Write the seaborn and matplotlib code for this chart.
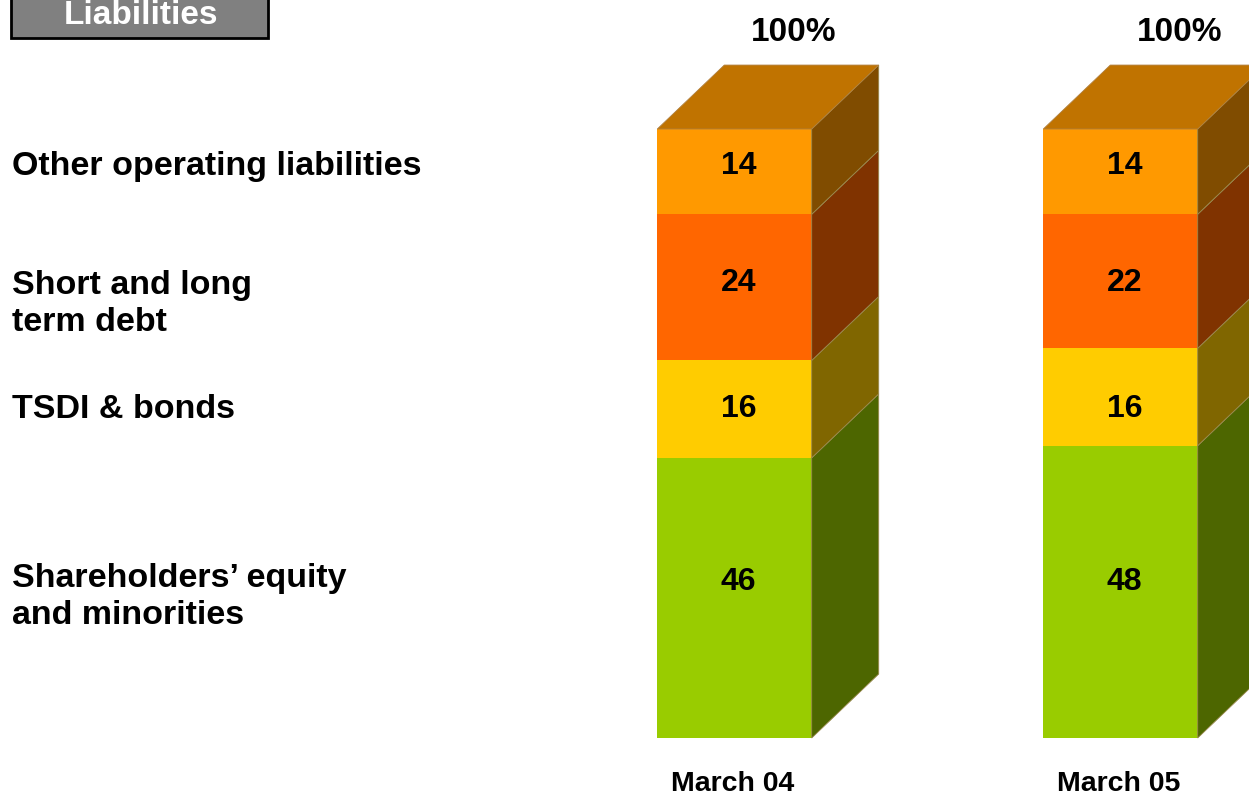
import matplotlib
matplotlib.use("Agg")
import matplotlib.pyplot as plt
from matplotlib.patches import Rectangle
import seaborn as sns
import pandas as pd

# Balance-sheet liability structure, % of total
periods = ["March 04", "March 05"]
segments = ["Shareholders\u2019 equity\nand minorities", "TSDI & bonds",
            "Short and long\nterm debt", "Other operating liabilities"]
equity = [46, 48]
tsdi = [16, 16]
debt = [24, 22]
other = [14, 14]
totals_label = ["100%", "100%"]

front_colors = ["#99CC00", "#FFCC00", "#FF6600", "#FF9900"]
side_colors = ["#4D6600", "#806600", "#803300", "#804C00"]
top_color = "#C07300"

sns.set_theme(style="white")
plt.rcParams["font.family"] = ["Liberation Sans", "DejaVu Sans"]

W, H = 1249, 797
fig = plt.figure(figsize=(W / 100, H / 100), dpi=100)
ax = fig.add_axes([0, 0, 1, 1])

series = [equity, tsdi, debt, other]
# cumulative stacks
cum = []
run = [0, 0]
for s in series:
    lo = list(run)
    run = [a + b for a, b in zip(run, s)]
    cum.append((lo, list(run)))

bar_w = 0.40
# front faces: draw cumulative tops from the highest layer down
for i in range(len(series) - 1, -1, -1):
    df = pd.DataFrame({"period": periods, "value": cum[i][1]})
    sns.barplot(data=df, x="period", y="value", color=front_colors[i],
                saturation=1, width=bar_w, linewidth=0, ax=ax, order=periods)

# pixel-aligned data window
cx0, step = 734.5, 386.0
y0, ppu = 738.0, 6.09
ax.set_xlim(-cx0 / step, (W - cx0) / step)
ax.set_ylim((y0 - H) / ppu, y0 / ppu)
ax.axis("off")


def row(py):
    """Convert a pixel row to the value axis."""
    return (y0 - py) / ppu


# text rows shared by the value labels and the category labels
value_rows = [582, 409, 283, 166]
cat_rows = [597, 409, 304, 166]

# pseudo-3D depth
dx, dy = 0.1736, 10.5
for j in range(len(periods)):
    xr = j + bar_w / 2
    xl = j - bar_w / 2
    for i in range(len(series)):
        b, t = cum[i][0][j], cum[i][1][j]
        ax.fill([xr, xr + dx, xr + dx, xr], [b, b + dy, t + dy, t],
                color=side_colors[i], lw=0.6, ec="#9a8a50", zorder=1)
    top = cum[-1][1][j]
    ax.fill([xl, xl + dx, xr + dx, xr], [top, top + dy, top + dy, top],
            color=top_color, lw=0.6, ec="#b08040", zorder=1)
    # segment values
    for i in range(len(series)):
        ax.text(j + 0.01, row(value_rows[i]), str(series[i][j]), ha="center",
                va="center", fontsize=23, fontweight="bold", color="black", zorder=5)
    ax.text(j + 0.153, row(33), totals_label[j], ha="center", va="center",
            fontsize=24, fontweight="bold", color="black")
    ax.text(j - 0.005, row(784), periods[j], ha="center", va="center",
            fontsize=20.5, fontweight="bold", color="black")

# category labels on the left
for lab, py in zip(segments, cat_rows):
    fig.text(12 / W, 1 - py / H, lab, ha="left", va="center",
             fontsize=24.5, fontweight="bold", color="black", linespacing=1.28)

# header box
fig.patches.append(Rectangle((11 / W, 1 - 38 / H), 257 / W, 60 / H,
                             transform=fig.transFigure, facecolor="#808080",
                             edgecolor="black", lw=2, zorder=3))
fig.text(141 / W, 1 - 15 / H, "Liabilities", ha="center", va="center",
         fontsize=24, fontweight="bold", color="white", zorder=4)

fig.savefig("out.png", dpi=100, facecolor="white")
